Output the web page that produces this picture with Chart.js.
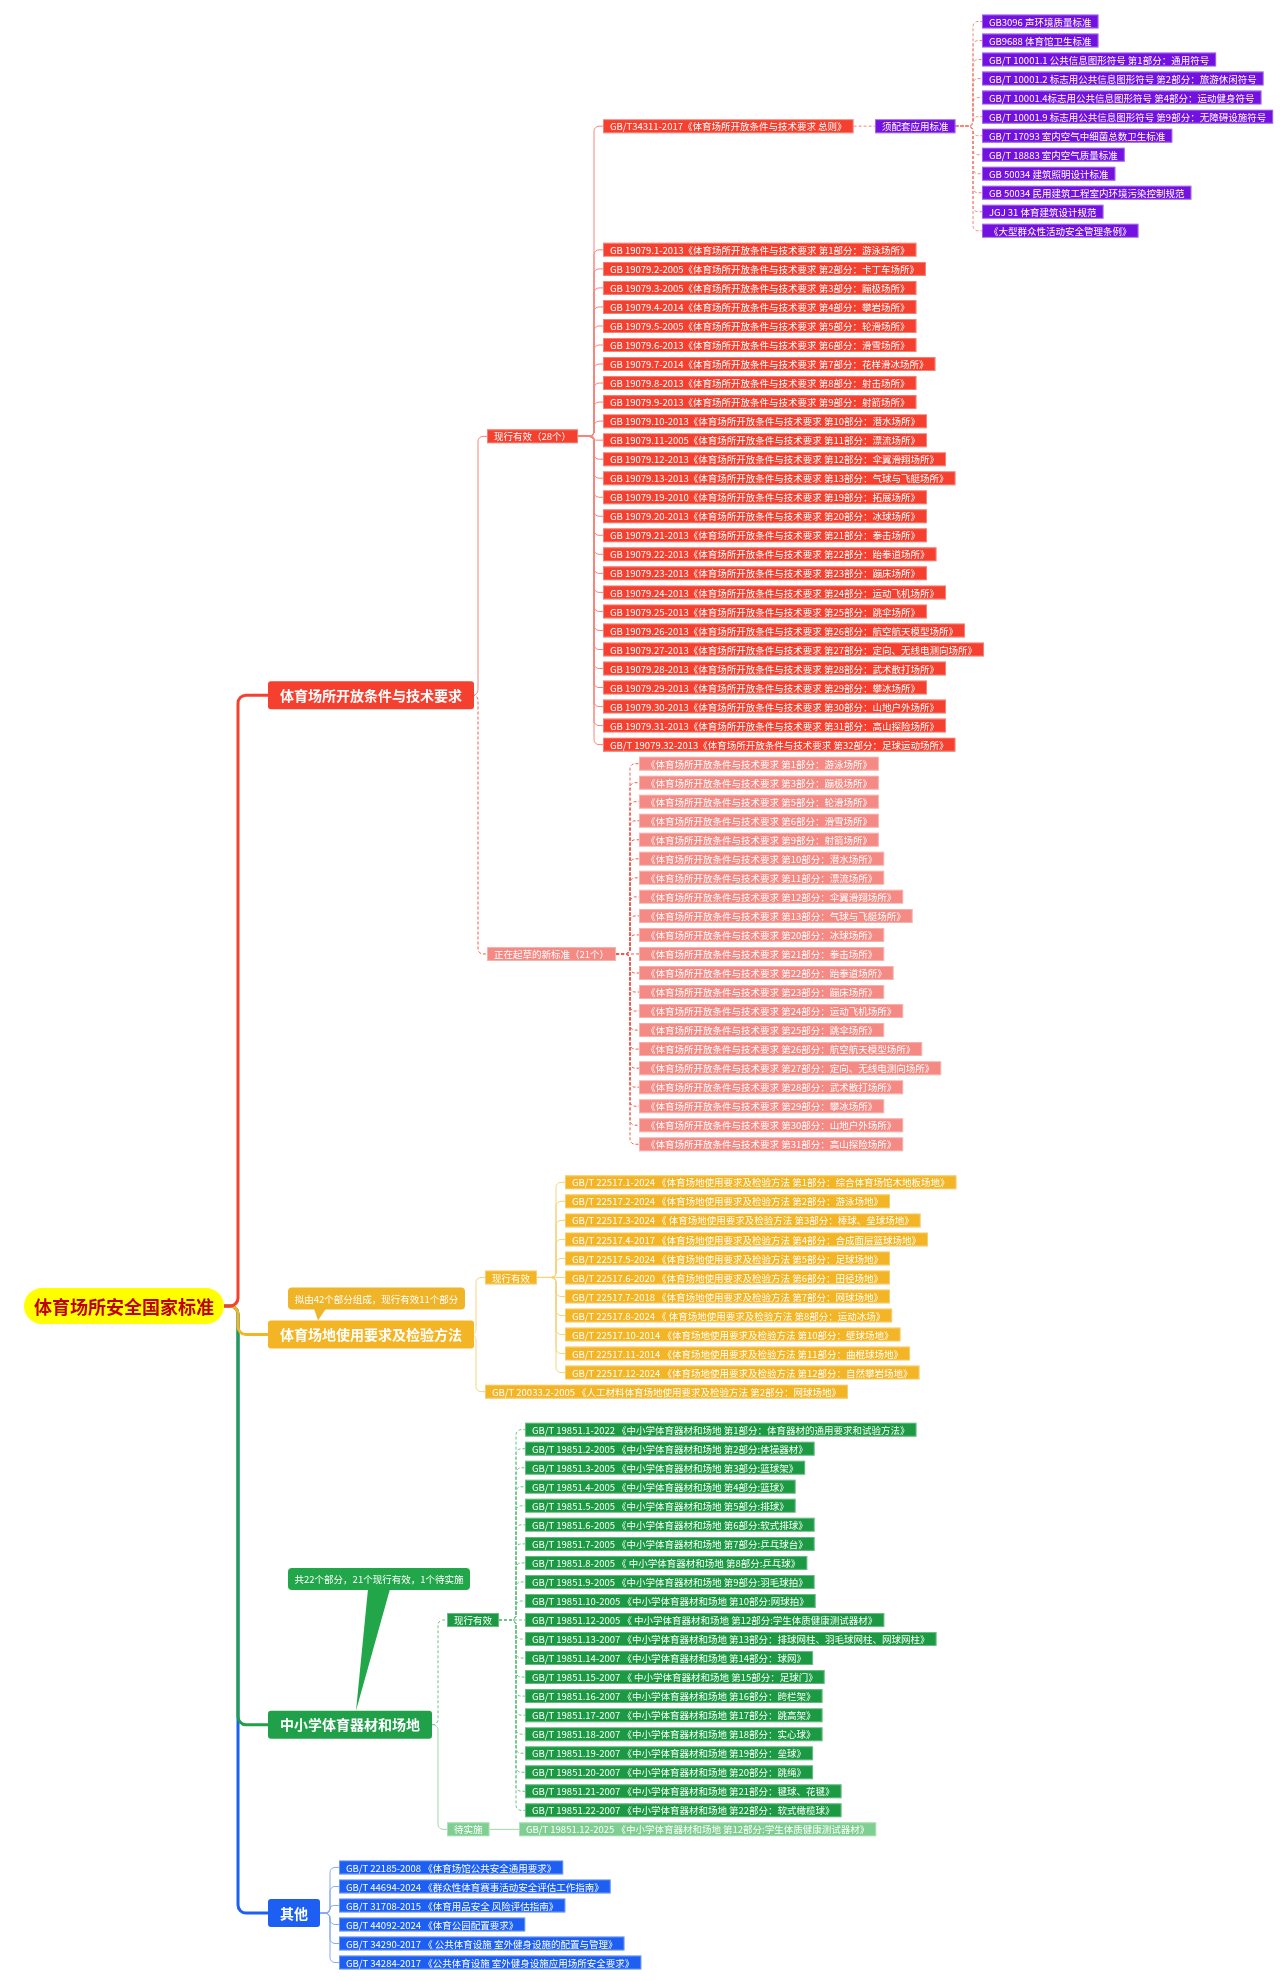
<!DOCTYPE html>
<html>
<head>
<meta charset="utf-8">
<script src="https://cdn.jsdelivr.net/npm/chart.js@4/dist/chart.umd.min.js"></script>
<style>
  body { margin: 0; background: #fff; }
  #wrap { width: 1280px; height: 1981px; position: relative; }
</style>
</head>
<body>
<div id="wrap"><canvas id="map"></canvas></div>
<script>
const FONT = '"Noto Sans CJK SC", "Noto Sans", sans-serif';

// ---- data ----
const rootTitle = "体育场所安全国家标准";
const mainBranches = ["体育场所开放条件与技术要求", "体育场地使用要求及检验方法", "中小学体育器材和场地", "其他"];
const mainRows = [35.4, 69, 89.5, 99.4];
const callouts = ["拟由42个部分组成，现行有效11个部分", "共22个部分，21个现行有效，1个待实施"];

const redGeneral = "GB/T34311-2017《体育场所开放条件与技术要求 总则》";
const purpleHead = "须配套应用标准";
const purpleItems = [
  "GB3096 声环境质量标准",
  "GB9688 体育馆卫生标准",
  "GB/T 10001.1 公共信息图形符号 第1部分：通用符号",
  "GB/T 10001.2 标志用公共信息图形符号 第2部分：旅游休闲符号",
  "GB/T 10001.4标志用公共信息图形符号 第4部分：运动健身符号",
  "GB/T 10001.9 标志用公共信息图形符号 第9部分：无障碍设施符号",
  "GB/T 17093 室内空气中细菌总数卫生标准",
  "GB/T 18883 室内空气质量标准",
  "GB 50034 建筑照明设计标准",
  "GB 50034 民用建筑工程室内环境污染控制规范",
  "JGJ 31 体育建筑设计规范",
  "《大型群众性活动安全管理条例》"
];
const redCurrent = [
  "GB 19079.1-2013《体育场所开放条件与技术要求 第1部分：游泳场所》",
  "GB 19079.2-2005《体育场所开放条件与技术要求 第2部分：卡丁车场所》",
  "GB 19079.3-2005《体育场所开放条件与技术要求 第3部分：蹦极场所》",
  "GB 19079.4-2014《体育场所开放条件与技术要求 第4部分：攀岩场所》",
  "GB 19079.5-2005《体育场所开放条件与技术要求 第5部分：轮滑场所》",
  "GB 19079.6-2013《体育场所开放条件与技术要求 第6部分：滑雪场所》",
  "GB 19079.7-2014《体育场所开放条件与技术要求 第7部分：花样滑冰场所》",
  "GB 19079.8-2013《体育场所开放条件与技术要求 第8部分：射击场所》",
  "GB 19079.9-2013《体育场所开放条件与技术要求 第9部分：射箭场所》",
  "GB 19079.10-2013《体育场所开放条件与技术要求 第10部分：潜水场所》",
  "GB 19079.11-2005《体育场所开放条件与技术要求 第11部分：漂流场所》",
  "GB 19079.12-2013《体育场所开放条件与技术要求 第12部分：伞翼滑翔场所》",
  "GB 19079.13-2013《体育场所开放条件与技术要求 第13部分：气球与飞艇场所》",
  "GB 19079.19-2010《体育场所开放条件与技术要求 第19部分：拓展场所》",
  "GB 19079.20-2013《体育场所开放条件与技术要求 第20部分：冰球场所》",
  "GB 19079.21-2013《体育场所开放条件与技术要求 第21部分：拳击场所》",
  "GB 19079.22-2013《体育场所开放条件与技术要求 第22部分：跆拳道场所》",
  "GB 19079.23-2013《体育场所开放条件与技术要求 第23部分：蹦床场所》",
  "GB 19079.24-2013《体育场所开放条件与技术要求 第24部分：运动飞机场所》",
  "GB 19079.25-2013《体育场所开放条件与技术要求 第25部分：跳伞场所》",
  "GB 19079.26-2013《体育场所开放条件与技术要求 第26部分：航空航天模型场所》",
  "GB 19079.27-2013《体育场所开放条件与技术要求 第27部分：定向、无线电测向场所》",
  "GB 19079.28-2013《体育场所开放条件与技术要求 第28部分：武术散打场所》",
  "GB 19079.29-2013《体育场所开放条件与技术要求 第29部分：攀冰场所》",
  "GB 19079.30-2013《体育场所开放条件与技术要求 第30部分：山地户外场所》",
  "GB 19079.31-2013《体育场所开放条件与技术要求 第31部分：高山探险场所》",
  "GB/T 19079.32-2013《体育场所开放条件与技术要求 第32部分：足球运动场所》"
];
const draftParts = ["第1部分：游泳场所", "第3部分：蹦极场所", "第5部分：轮滑场所", "第6部分：滑雪场所",
  "第9部分：射箭场所", "第10部分：潜水场所", "第11部分：漂流场所", "第12部分：伞翼滑翔场所",
  "第13部分：气球与飞艇场所", "第20部分：冰球场所", "第21部分：拳击场所", "第22部分：跆拳道场所",
  "第23部分：蹦床场所", "第24部分：运动飞机场所", "第25部分：跳伞场所", "第26部分：航空航天模型场所",
  "第27部分：定向、无线电测向场所", "第28部分：武术散打场所", "第29部分：攀冰场所",
  "第30部分：山地户外场所", "第31部分：高山探险场所"];
const yellowCurrent = [
  "GB/T 22517.1-2024 《体育场地使用要求及检验方法 第1部分：综合体育场馆木地板场地》",
  "GB/T 22517.2-2024 《体育场地使用要求及检验方法 第2部分：游泳场地》",
  "GB/T 22517.3-2024 《 体育场地使用要求及检验方法 第3部分：棒球、垒球场地》",
  "GB/T 22517.4-2017 《体育场地使用要求及检验方法 第4部分：合成面层篮球场地》",
  "GB/T 22517.5-2024 《体育场地使用要求及检验方法 第5部分：足球场地》",
  "GB/T 22517.6-2020 《体育场地使用要求及检验方法 第6部分：田径场地》",
  "GB/T 22517.7-2018 《体育场地使用要求及检验方法 第7部分：网球场地》",
  "GB/T 22517.8-2024 《 体育场地使用要求及检验方法 第8部分：运动冰场》",
  "GB/T 22517.10-2014 《体育场地使用要求及检验方法 第10部分：壁球场地》",
  "GB/T 22517.11-2014 《体育场地使用要求及检验方法 第11部分：曲棍球场地》",
  "GB/T 22517.12-2024 《体育场地使用要求及检验方法 第12部分：自然攀岩场地》"
];
const yellowOther = "GB/T 20033.2-2005 《人工材料体育场地使用要求及检验方法 第2部分：网球场地》";
const greenCurrent = [
  "GB/T 19851.1-2022 《中小学体育器材和场地 第1部分：体育器材的通用要求和试验方法》",
  "GB/T 19851.2-2005 《中小学体育器材和场地 第2部分:体操器材》",
  "GB/T 19851.3-2005 《中小学体育器材和场地 第3部分:篮球架》",
  "GB/T 19851.4-2005 《中小学体育器材和场地 第4部分:篮球》",
  "GB/T 19851.5-2005 《中小学体育器材和场地 第5部分:排球》",
  "GB/T 19851.6-2005 《中小学体育器材和场地 第6部分:软式排球》",
  "GB/T 19851.7-2005 《中小学体育器材和场地 第7部分:乒乓球台》",
  "GB/T 19851.8-2005 《 中小学体育器材和场地 第8部分:乒乓球》",
  "GB/T 19851.9-2005 《中小学体育器材和场地 第9部分:羽毛球拍》",
  "GB/T 19851.10-2005 《中小学体育器材和场地 第10部分:网球拍》",
  "GB/T 19851.12-2005 《 中小学体育器材和场地 第12部分:学生体质健康测试器材》",
  "GB/T 19851.13-2007 《中小学体育器材和场地 第13部分：排球网柱、羽毛球网柱、网球网柱》",
  "GB/T 19851.14-2007 《中小学体育器材和场地 第14部分：球网》",
  "GB/T 19851.15-2007 《 中小学体育器材和场地 第15部分：足球门》",
  "GB/T 19851.16-2007 《中小学体育器材和场地 第16部分：跨栏架》",
  "GB/T 19851.17-2007 《中小学体育器材和场地 第17部分：跳高架》",
  "GB/T 19851.18-2007 《中小学体育器材和场地 第18部分：实心球》",
  "GB/T 19851.19-2007 《中小学体育器材和场地 第19部分：垒球》",
  "GB/T 19851.20-2007 《中小学体育器材和场地 第20部分：跳绳》",
  "GB/T 19851.21-2007 《中小学体育器材和场地 第21部分：毽球、花毽》",
  "GB/T 19851.22-2007 《中小学体育器材和场地 第22部分：软式橄榄球》"
];
const greenPending = "GB/T 19851.12-2025 《中小学体育器材和场地 第12部分:学生体质健康测试器材》";
const otherItems = [
  "GB/T 22185-2008 《体育场馆公共安全通用要求》",
  "GB/T 44694-2024 《群众性体育赛事活动安全评估工作指南》",
  "GB/T 31708-2015 《体育用品安全 风险评估指南》",
  "GB/T 44092-2024 《体育公园配置要求》",
  "GB/T 34290-2017 《 公共体育设施 室外健身设施的配置与管理》",
  "GB/T 34284-2017 《公共体育设施 室外健身设施应用场所安全要求》"
];

// ---- styles ----
const styles = {
  root:   { fill: "#ffff00", color: "#c00000", font: "bold 18px " + FONT, h: 36 },
  red1:   { fill: "#f5402f", color: "#fff", font: "bold 14px " + FONT, h: 28, pad: 12, line: "#f5402f", lw: 3 },
  yel1:   { fill: "#f3b525", color: "#fff", font: "bold 14px " + FONT, h: 28, pad: 12, line: "#f3b525", lw: 3 },
  grn1:   { fill: "#1fa049", color: "#fff", font: "bold 14px " + FONT, h: 28, pad: 12, line: "#1fa049", lw: 3 },
  blu1:   { fill: "#1c5ff2", color: "#fff", font: "bold 14px " + FONT, h: 28, pad: 12, line: "#1c5ff2", lw: 3 },
  red:    { fill: "#f5402f", color: "#fff", line: "#f7857c" },
  pink:   { fill: "#f58a84", color: "#fff", line: "#f5584d", dash: true },
  purple: { fill: "#7312e0", color: "#fff", line: "#f7857c", dash: true },
  yel:    { fill: "#f3b525", color: "#fff", line: "#f8d27a" },
  grn:    { fill: "#1b9a43", color: "#fff", line: "#6cc486", dash: true },
  grnL:   { fill: "#7fcf92", color: "#fff", line: "#9bd9aa" },
  blu:    { fill: "#1c5ff2", color: "#fff", line: "#86a8f5" }
};

// ---- hierarchy (x = column position, y = row) ----
const nodes = [];
function add(label, row, col, parent, style) {
  nodes.push({ label, x: col, y: row, parent, style });
  return nodes.length - 1;
}
const root = add(rootTitle, 67.5, 24, -1, "root");
const mRed = add(mainBranches[0], mainRows[0], 268, root, "red1");
const mYel = add(mainBranches[1], mainRows[1], 268, root, "yel1");
const mGrn = add(mainBranches[2], mainRows[2], 268, root, "grn1");
const mBlu = add(mainBranches[3], mainRows[3], 268, root, "blu1");

const redNow = add("现行有效（28个）", 21.8, 487, mRed, "red");
const redDraft = add("正在起草的新标准（21个）", 49, 487, mRed, "pink");
const general = add(redGeneral, 5.5, 603, redNow, "red");
const pHead = add(purpleHead, 5.5, 875, general, "purple");
purpleItems.forEach((t, i) => add(t, i, 982, pHead, "purple"));
redCurrent.forEach((t, i) => add(t, 12 + i, 603, redNow, "red"));
draftParts.forEach((t, i) => add("《体育场所开放条件与技术要求 " + t + "》", 39 + i, 639, redDraft, "pink"));

const yNow = add("现行有效", 66, 485, mYel, "yel");
yellowCurrent.forEach((t, i) => add(t, 61 + i, 565, yNow, "yel"));
add(yellowOther, 72, 485, mYel, "yel");

const gNow = add("现行有效", 84, 447, mGrn, "grn");
greenCurrent.forEach((t, i) => add(t, 74 + i, 525, gNow, "grn"));
const gPend = add("待实施", 95, 447, mGrn, "grnL");
add(greenPending, 95, 519, gPend, "grnL");

otherItems.forEach((t, i) => add(t, 97 + i, 339, mBlu, "blu"));

// ---- drawing plugin ----
function elbow(ctx, x0, y0, xt, x1, y1, r) {
  ctx.beginPath();
  ctx.moveTo(x0, y0);
  if (Math.abs(y1 - y0) < 1) { ctx.lineTo(x1, y1); ctx.stroke(); return; }
  const rr = Math.min(r, Math.abs(y1 - y0) / 2);
  ctx.arcTo(xt, y0, xt, y1, rr);
  ctx.arcTo(xt, y1, x1, y1, rr);
  ctx.lineTo(x1, y1);
  ctx.stroke();
}

const mindMap = {
  id: "mindMap",
  afterDatasetsDraw(chart) {
    const ctx = chart.ctx;
    const pts = chart.getDatasetMeta(0).data;
    const yScale = chart.scales.y;
    // box geometry
    nodes.forEach((n, i) => {
      const s = styles[n.style];
      ctx.font = s.font || "9.5px " + FONT;
      const pad = s.pad || 7;
      n.px = pts[i].x; n.py = pts[i].y;
      n.h = s.h || 14;
      n.w = n.style === "root" ? 200 : ctx.measureText(n.label).width + pad * 2;
    });
    ctx.save();
    // connectors (draw in reverse so upper branches sit on top)
    for (let i = nodes.length - 1; i > 0; i--) {
      const n = nodes[i], p = nodes[n.parent];
      const s = styles[n.style];
      const main = n.parent === root;
      ctx.strokeStyle = s.line;
      ctx.lineWidth = s.lw || 1;
      ctx.setLineDash(s.dash ? [3, 2] : []);
      const x0 = p.px + p.w;
      const xt = main ? x0 + 14 : n.px - 9;
      elbow(ctx, x0, p.py, xt, n.px, n.py, main ? 8 : 5);
    }
    ctx.setLineDash([]);
    // callouts with pointers
    const calloutSpecs = [
      { text: callouts[0], row: 67.1, fill: "#f0b428", target: mYel, tip: 26 },
      { text: callouts[1], row: 81.85, fill: "#22a64a", target: mGrn, tip: 80 }
    ];
    calloutSpecs.forEach(c => {
      const t = nodes[c.target];
      const cy = yScale.getPixelForValue(c.row);
      const cx = t.px + 20, cw = t.style === "grn1" ? 182 : 177, ch = 22;
      ctx.fillStyle = c.fill;
      ctx.beginPath();
      ctx.moveTo(cx + c.tip, cy + ch / 2 - 1);
      ctx.lineTo(cx + c.tip + (c.target === mGrn ? -12 : 4), t.py - t.h / 2);
      ctx.lineTo(cx + c.tip + (c.target === mGrn ? 22 : 12), cy + ch / 2 - 1);
      ctx.fill();
      ctx.beginPath();
      ctx.roundRect(cx, cy - ch / 2, cw, ch, 4);
      ctx.fill();
      ctx.fillStyle = "#fff";
      ctx.font = "9.5px " + FONT;
      ctx.textBaseline = "middle";
      ctx.textAlign = "center";
      ctx.fillText(c.text, cx + cw / 2, cy + 0.5);
    });
    // boxes
    nodes.forEach(n => {
      const s = styles[n.style];
      ctx.font = s.font || "9.5px " + FONT;
      ctx.textBaseline = "middle";
      if (n.style === "root") {
        ctx.fillStyle = s.fill;
        ctx.beginPath();
        ctx.roundRect(n.px, n.py - n.h / 2, n.w, n.h, n.h / 2);
        ctx.fill();
        ctx.fillStyle = s.color;
        ctx.textAlign = "center";
        ctx.fillText(n.label, n.px + n.w / 2, n.py + 1);
        return;
      }
      ctx.fillStyle = s.fill;
      ctx.beginPath();
      ctx.roundRect(n.px, n.py - n.h / 2, n.w, n.h, s.h ? 3 : 0);
      ctx.fill();
      if (!s.h) {
        ctx.strokeStyle = "rgba(255,255,255,0.35)";
        ctx.lineWidth = 1;
        ctx.strokeRect(n.px + 0.5, n.py - n.h / 2 + 0.5, n.w - 1, n.h - 1);
      }
      ctx.fillStyle = s.color;
      ctx.textAlign = "left";
      ctx.fillText(n.label, n.px + (s.pad || 7), n.py + 0.5);
    });
    ctx.restore();
  }
};

new Chart(document.getElementById("map"), {
  type: "scatter",
  data: { datasets: [{ data: nodes.map(n => ({ x: n.x, y: n.y })), pointRadius: 0 }] },
  options: {
    responsive: true,
    maintainAspectRatio: false,
    animation: false,
    layout: { padding: 0 },
    scales: {
      x: { type: "linear", min: 0, max: 1280, display: false },
      y: { type: "linear", min: -1.13, max: 102.97, reverse: true, display: false }
    },
    plugins: { legend: { display: false }, tooltip: { enabled: false } }
  },
  plugins: [mindMap]
});
</script>
</body>
</html>
